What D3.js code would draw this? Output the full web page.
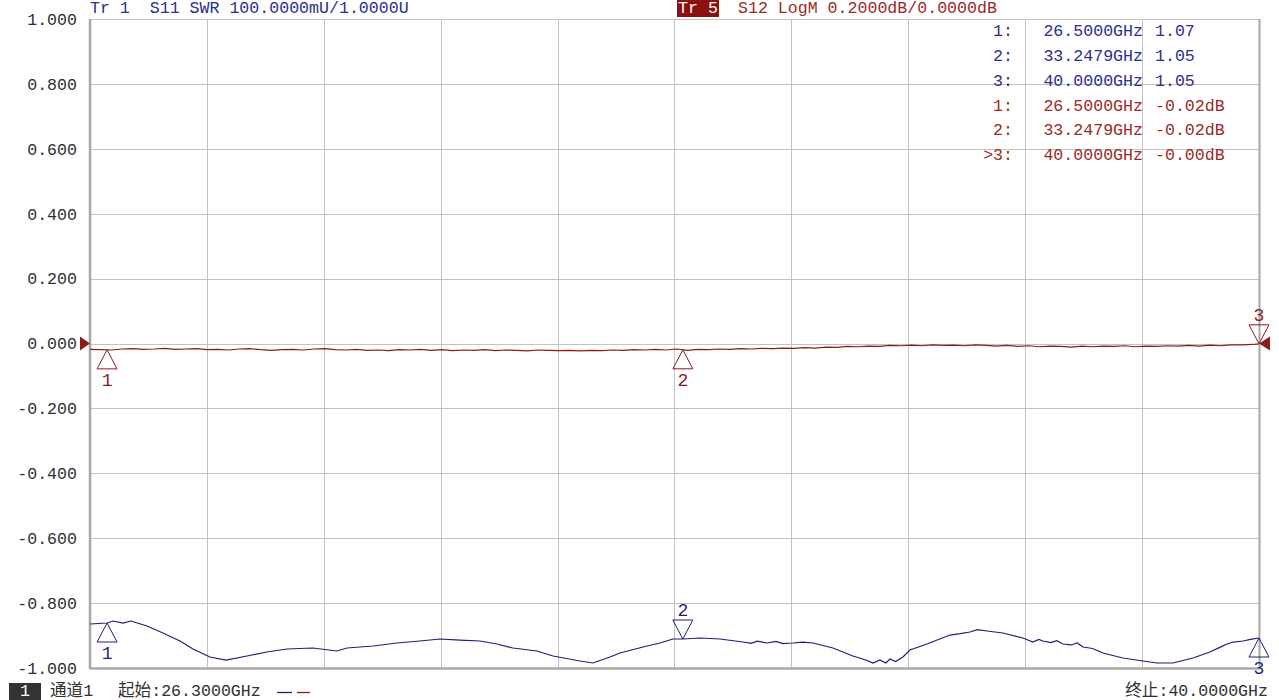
<!DOCTYPE html>
<html>
<head>
<meta charset="utf-8">
<script src="https://cdn.jsdelivr.net/npm/d3@7"></script>
<style>
  html, body { margin: 0; padding: 0; background: #fff; }
  svg { display: block; }
  text { font-family: 'Liberation Mono', 'Noto Sans CJK SC', monospace; }
</style>
</head>
<body>
<svg id="chart" width="1279" height="700"></svg>
<script>
// ---------------- DATA ----------------
const startGHz = 26.3;
const stopGHz = 40.0;
const yTickValues = [1.0, 0.8, 0.6, 0.4, 0.2, 0.0, -0.2, -0.4, -0.6, -0.8, -1.0];
const yTickLabels = ["1.000", "0.800", "0.600", "0.400", "0.200", "0.000", "-0.200", "-0.400", "-0.600", "-0.800", "-1.000"];

// Trace 1: S11 SWR (100 mU/div, 1.0000 U at bottom)
const s11Freq = [26.300, 26.500, 26.570, 26.687, 26.780, 26.968, 27.155, 27.355, 27.507, 27.706,
  27.894, 28.140, 28.374, 28.609, 28.913, 29.195, 29.312, 29.617, 29.898, 30.167,
  30.402, 30.636, 30.870, 31.070, 31.257, 31.538, 31.726, 32.042, 32.195, 32.394,
  32.511, 32.781, 32.980, 33.132, 33.248, 33.449, 33.683, 33.952, 34.050, 34.120,
  34.233, 34.340, 34.420, 34.538, 34.650, 34.773, 35.007, 35.241, 35.400, 35.476,
  35.557, 35.627, 35.675, 35.740, 35.827, 35.909, 36.109, 36.378, 36.500, 36.612,
  36.700, 36.812, 36.999, 37.233, 37.350, 37.420, 37.468, 37.560, 37.630, 37.702,
  37.800, 37.870, 37.937, 38.050, 38.171, 38.405, 38.640, 38.804, 38.991, 39.226,
  39.425, 39.560, 39.624, 39.700, 39.812, 39.900, 40.000];
const s11Swr = [1.0678, 1.0693, 1.0724, 1.0693, 1.0724, 1.0647, 1.0539, 1.0416, 1.0293, 1.0169,
  1.0123, 1.0185, 1.0247, 1.0293, 1.0308, 1.0262, 1.0308, 1.0339, 1.0385, 1.0416,
  1.0447, 1.0431, 1.0416, 1.0370, 1.0308, 1.0262, 1.0185, 1.0108, 1.0077, 1.0169,
  1.0231, 1.0324, 1.0385, 1.0447, 1.0447, 1.0462, 1.0447, 1.0401, 1.0380, 1.0415,
  1.0385, 1.0410, 1.0375, 1.0385, 1.0400, 1.0385, 1.0308, 1.0185, 1.0120, 1.0077,
  1.0123, 1.0077, 1.0139, 1.0100, 1.0169, 1.0277, 1.0370, 1.0508, 1.0530, 1.0555,
  1.0590, 1.0570, 1.0539, 1.0462, 1.0400, 1.0440, 1.0416, 1.0390, 1.0420, 1.0370,
  1.0355, 1.0385, 1.0324, 1.0300, 1.0231, 1.0154, 1.0108, 1.0077, 1.0077, 1.0154,
  1.0247, 1.0330, 1.0370, 1.0400, 1.0416, 1.0440, 1.0462];

// Trace 5: S12 LogM (0.2 dB/div, 0.0000 dB at centre)
const s12Freq = [26.300, 26.425, 26.550, 26.675, 26.800, 26.925, 27.050, 27.175, 27.300, 27.425,
  27.550, 27.675, 27.800, 27.925, 28.050, 28.175, 28.300, 28.425, 28.550, 28.675,
  28.800, 28.925, 29.050, 29.175, 29.300, 29.425, 29.550, 29.675, 29.800, 29.925,
  30.050, 30.175, 30.300, 30.425, 30.550, 30.675, 30.800, 30.925, 31.050, 31.175,
  31.300, 31.425, 31.550, 31.675, 31.800, 31.925, 32.050, 32.175, 32.300, 32.425,
  32.550, 32.675, 32.800, 32.925, 33.050, 33.175, 33.300, 33.425, 33.550, 33.675,
  33.800, 33.925, 34.050, 34.175, 34.300, 34.425, 34.550, 34.675, 34.800, 34.925,
  35.050, 35.175, 35.300, 35.425, 35.550, 35.675, 35.800, 35.925, 36.050, 36.175,
  36.300, 36.425, 36.550, 36.675, 36.800, 36.925, 37.050, 37.175, 37.300, 37.425,
  37.550, 37.675, 37.800, 37.925, 38.050, 38.175, 38.300, 38.425, 38.550, 38.675,
  38.800, 38.925, 39.050, 39.175, 39.300, 39.425, 39.550, 39.675, 39.800, 39.925,
  40.000];
const s12Db = [-0.018, -0.019, -0.020, -0.017, -0.016, -0.018, -0.017, -0.015, -0.018, -0.017,
  -0.016, -0.019, -0.018, -0.020, -0.017, -0.016, -0.019, -0.021, -0.019, -0.018,
  -0.020, -0.017, -0.016, -0.019, -0.020, -0.018, -0.021, -0.020, -0.022, -0.019,
  -0.020, -0.018, -0.021, -0.019, -0.022, -0.020, -0.021, -0.019, -0.022, -0.020,
  -0.021, -0.023, -0.020, -0.021, -0.022, -0.021, -0.023, -0.021, -0.022, -0.020,
  -0.021, -0.019, -0.020, -0.018, -0.020, -0.017, -0.021, -0.018, -0.019, -0.017,
  -0.018, -0.016, -0.017, -0.015, -0.016, -0.014, -0.015, -0.013, -0.014, -0.011,
  -0.012, -0.009, -0.010, -0.008, -0.009, -0.006, -0.007, -0.005, -0.007, -0.004,
  -0.006, -0.005, -0.007, -0.004, -0.006, -0.008, -0.006, -0.009, -0.007, -0.010,
  -0.008, -0.009, -0.011, -0.008, -0.010, -0.008, -0.009, -0.007, -0.010, -0.008,
  -0.009, -0.007, -0.008, -0.006, -0.008, -0.005, -0.007, -0.004, -0.004, -0.003,
  -0.001];

// Markers
const markerIds = ["1", "2", "3"];
const markerFreq = [26.5, 33.2479, 40.0];
const markerFreqLabels = ["26.5000GHz", "33.2479GHz", "40.0000GHz"];
const s11MarkerValues = [1.0693, 1.0447, 1.0462];
const s11MarkerLabels = ["1.07", "1.05", "1.05"];
const s11MarkerDir = ["up", "down", "up"];
const s12MarkerValues = [-0.0196, -0.0195, -0.001];
const s12MarkerLabels = ["-0.02dB", "-0.02dB", "-0.00dB"];
const s12MarkerDir = ["up", "up", "down"];

const headerS11 = "Tr 1  S11 SWR 100.0000mU/1.0000U";
const headerS12Tag = "Tr 5";
const headerS12 = "S12 LogM 0.2000dB/0.0000dB";
const footerChannel = "通道1";
const footerStart = "起始:26.3000GHz";
const footerStop = "终止:40.0000GHz";

// ---------------- DRAW ----------------
const BLUE = "#1f1f78";
const BLUE_TXT = "#2b2f8f";
const RED = "#8a1c1c";
const RED_TXT = "#9a2a2a";
const GRID = "#c3c3c3";
const FS = 16.6;

const svg = d3.select("#chart");
const L = 90, R = 1259, T = 19, B = 668;

const x = d3.scaleLinear().domain([startGHz, stopGHz]).range([L, R]);
const yDb = d3.scaleLinear().domain([-1, 1]).range([B, T]);
const ySwr = d3.scaleLinear().domain([1.0, 2.0]).range([B, T]);

// grid
const xGrid = d3.range(0, 11).map(i => startGHz + i * (stopGHz - startGHz) / 10);
svg.append("g").selectAll("line").data(xGrid).join("line")
  .attr("x1", d => Math.round(x(d)) + 0.5).attr("x2", d => Math.round(x(d)) + 0.5)
  .attr("y1", T).attr("y2", B)
  .attr("stroke", GRID).attr("stroke-width", 1);
svg.append("g").selectAll("line").data(yTickValues).join("line")
  .attr("x1", L).attr("x2", R)
  .attr("y1", d => Math.round(yDb(d)) + 0.5).attr("y2", d => Math.round(yDb(d)) + 0.5)
  .attr("stroke", GRID).attr("stroke-width", 1);
// borders (left & bottom thicker)
svg.append("line").attr("x1", L).attr("x2", L).attr("y1", T).attr("y2", B + 1)
  .attr("stroke", "#a8a8a8").attr("stroke-width", 2.5);
svg.append("line").attr("x1", L).attr("x2", R + 1).attr("y1", B + 0.5).attr("y2", B + 0.5)
  .attr("stroke", "#a8a8a8").attr("stroke-width", 2.5);
svg.append("line").attr("x1", R + 0.5).attr("x2", R + 0.5).attr("y1", T).attr("y2", B)
  .attr("stroke", "#a8a8a8").attr("stroke-width", 2);

// y-axis labels via d3 axis
const yAxis = d3.axisLeft(yDb).tickValues(yTickValues)
  .tickFormat((d, i) => yTickLabels[i]).tickSize(0).tickPadding(13);
const ya = svg.append("g").attr("transform", `translate(${L},0)`).call(yAxis);
ya.select(".domain").remove();
ya.selectAll("text").attr("font-family", "'Liberation Mono', monospace")
  .attr("font-size", FS).attr("fill", "#303030");

// traces
svg.append("clipPath").attr("id", "clip").append("rect")
  .attr("x", L).attr("y", T - 2).attr("width", R - L + 1).attr("height", B - T + 3);

const s11Data = s11Freq.map((f, i) => [f, s11Swr[i]]);
const s12Data = s12Freq.map((f, i) => [f, s12Db[i]]);

svg.append("path").datum(s12Data)
  .attr("clip-path", "url(#clip)")
  .attr("fill", "none").attr("stroke", RED).attr("stroke-width", 1.2)
  .attr("d", d3.line().x(d => x(d[0])).y(d => yDb(d[1])));
svg.append("path").datum(s11Data)
  .attr("clip-path", "url(#clip)")
  .attr("fill", "none").attr("stroke", BLUE).attr("stroke-width", 1.2)
  .attr("d", d3.line().x(d => x(d[0])).y(d => ySwr(d[1])));

// reference arrows for S12 (0 dB)
const yRef = yDb(0);
svg.append("path").attr("d", `M${L - 10},${yRef - 7} L${L},${yRef} L${L - 10},${yRef + 7} Z`).attr("fill", RED);
svg.append("path").attr("d", `M${R + 11},${yRef - 7} L${R},${yRef} L${R + 11},${yRef + 7} Z`).attr("fill", RED);

// markers
function drawMarker(px, py, dir, label, color) {
  const h = 19, w = 10;
  const g = svg.append("g");
  if (dir === "up") {
    g.append("path").attr("d", `M${px},${py} L${px - w},${py + h} L${px + w},${py + h} Z`)
      .attr("fill", "none").attr("stroke", color).attr("stroke-width", 1);
    g.append("text").attr("x", px).attr("y", py + h + 17).attr("text-anchor", "middle")
      .attr("font-family", "'Liberation Serif', serif").attr("font-size", 18).attr("fill", color).text(label);
  } else {
    g.append("path").attr("d", `M${px},${py} L${px - w},${py - h} L${px + w},${py - h} Z`)
      .attr("fill", "none").attr("stroke", color).attr("stroke-width", 1);
    g.append("text").attr("x", px).attr("y", py - h - 4).attr("text-anchor", "middle")
      .attr("font-family", "'Liberation Serif', serif").attr("font-size", 18).attr("fill", color).text(label);
  }
}
markerIds.forEach((id, i) => {
  drawMarker(x(markerFreq[i]), ySwr(s11MarkerValues[i]), s11MarkerDir[i], id, BLUE);
  drawMarker(x(markerFreq[i]), yDb(s12MarkerValues[i]), s12MarkerDir[i], id, RED);
});

// headers
svg.append("text").attr("x", 90).attr("y", 9).attr("dominant-baseline", "middle")
  .attr("font-size", FS).attr("fill", BLUE_TXT).attr("xml:space", "preserve")
  .style("white-space", "pre").text(headerS11);
svg.append("rect").attr("x", 677).attr("y", 0).attr("width", 42).attr("height", 17).attr("fill", "#8b1010");
svg.append("text").attr("x", 698).attr("y", 9).attr("dominant-baseline", "middle").attr("text-anchor", "middle")
  .attr("font-size", FS).attr("fill", "#ffffff").text(headerS12Tag);
svg.append("text").attr("x", 738).attr("y", 9).attr("dominant-baseline", "middle")
  .attr("font-size", FS).attr("fill", RED_TXT).text(headerS12);

// marker table
const rowY = [32, 57, 82, 107, 131, 156];
const activeMarker = 2; // index of active marker on trace 5
const tbl = svg.append("g").attr("font-size", FS);
markerIds.forEach((id, i) => {
  const yy = rowY[i];
  tbl.append("text").attr("x", 1013).attr("y", yy).attr("dominant-baseline", "middle").attr("text-anchor", "end").attr("fill", BLUE_TXT).text(id + ":");
  tbl.append("text").attr("x", 1143).attr("y", yy).attr("dominant-baseline", "middle").attr("text-anchor", "end").attr("fill", BLUE_TXT).text(markerFreqLabels[i]);
  tbl.append("text").attr("x", 1155).attr("y", yy).attr("dominant-baseline", "middle").attr("fill", BLUE_TXT).text(s11MarkerLabels[i]);
});
markerIds.forEach((id, i) => {
  const yy = rowY[i + 3];
  tbl.append("text").attr("x", 1013).attr("y", yy).attr("dominant-baseline", "middle").attr("text-anchor", "end").attr("fill", RED_TXT)
    .text((i === activeMarker ? ">" : "") + id + ":");
  tbl.append("text").attr("x", 1143).attr("y", yy).attr("dominant-baseline", "middle").attr("text-anchor", "end").attr("fill", RED_TXT).text(markerFreqLabels[i]);
  tbl.append("text").attr("x", 1155).attr("y", yy).attr("dominant-baseline", "middle").attr("fill", RED_TXT).text(s12MarkerLabels[i]);
});

// footer
svg.append("rect").attr("x", 9).attr("y", 683).attr("width", 32).attr("height", 17).attr("fill", "#333333");
svg.append("text").attr("x", 25).attr("y", 692).attr("dominant-baseline", "middle").attr("text-anchor", "middle")
  .attr("font-size", FS).attr("fill", "#ffffff").text("1");
svg.append("text").attr("x", 50).attr("y", 692).attr("dominant-baseline", "middle")
  .attr("font-size", FS).attr("fill", "#303030").text(footerChannel);
svg.append("text").attr("x", 118).attr("y", 692).attr("dominant-baseline", "middle")
  .attr("font-size", FS).attr("fill", "#303030").text(footerStart);
svg.append("line").attr("x1", 277).attr("x2", 292).attr("y1", 692.5).attr("y2", 692.5).attr("stroke", BLUE).attr("stroke-width", 1.3);
svg.append("line").attr("x1", 297).attr("x2", 310).attr("y1", 692.5).attr("y2", 692.5).attr("stroke", RED).attr("stroke-width", 1.3);
svg.append("text").attr("x", 1268).attr("y", 692).attr("dominant-baseline", "middle").attr("text-anchor", "end")
  .attr("font-size", FS).attr("fill", "#303030").text(footerStop);
</script>
</body>
</html>
